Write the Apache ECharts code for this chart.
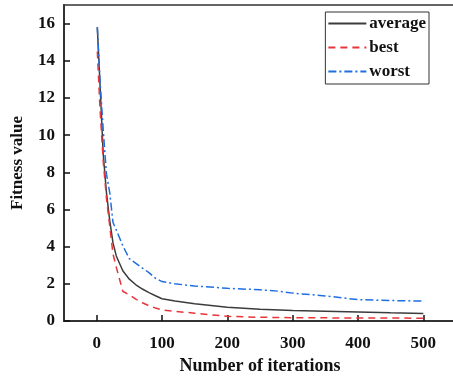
<!DOCTYPE html>
<html><head><meta charset="utf-8">
<script src="https://cdn.jsdelivr.net/npm/echarts@6/dist/echarts.min.js"></script>
<style>html,body{margin:0;padding:0;background:#fff}#c{width:453px;height:378px}</style>
</head><body><div id="c"></div>
<script>
const iterations = [1, 5, 10, 15, 20, 25, 30, 40, 50, 60, 70, 80, 90, 100, 120, 150, 200, 250, 280, 300, 350, 400, 450, 500];
const averageVals = [15.8, 12.8, 9.0, 6.9, 5.4, 4.2, 3.5, 2.7, 2.25, 1.95, 1.72, 1.53, 1.36, 1.2, 1.07, 0.93, 0.74, 0.63, 0.59, 0.56, 0.52, 0.48, 0.44, 0.41];
const bestVals = [14.5, 11.5, 8.6, 6.6, 5.1, 3.6, 2.9, 1.6, 1.4, 1.18, 0.98, 0.82, 0.7, 0.6, 0.52, 0.42, 0.25, 0.2, 0.19, 0.18, 0.17, 0.16, 0.16, 0.15];
const worstVals = [15.8, 13.0, 10.3, 7.9, 6.9, 5.3, 4.9, 4.05, 3.35, 3.1, 2.85, 2.6, 2.3, 2.12, 2.0, 1.88, 1.76, 1.68, 1.6, 1.5, 1.35, 1.15, 1.1, 1.07];
const xTicks = [0, 100, 200, 300, 400, 500];
const yTicks = [0, 2, 4, 6, 8, 10, 12, 14, 16];
const seriesNames = ['average', 'best', 'worst'];

const pairs = vals => iterations.map((x, i) => [x, vals[i]]);
const font = 'Liberation Serif, Times New Roman, serif';
const chart = echarts.init(document.getElementById('c'), null, {renderer: 'canvas'});
chart.setOption({
  animation: false,
  grid: {left: 64, right: -3, top: 5, bottom: 57, outerBoundsMode: 'none', containLabel: false,
         show: true, borderColor: '#333', borderWidth: 1.5},
  legend: {
    orient: 'vertical', right: 24, top: 12,
    itemWidth: 38, itemHeight: 12, itemGap: 7,
    padding: [3, 3, 4, 2],
    borderColor: '#333', borderWidth: 1,
    itemStyle: {opacity: 0},
    textStyle: {fontFamily: font, fontWeight: 'bold', fontSize: 17, color: '#111', padding: [0, 0, 0, -2]},
    data: seriesNames
  },
  xAxis: {
    type: 'value', min: -50, max: 550,
    name: 'Number of iterations', nameLocation: 'middle', nameGap: 36,
    nameTextStyle: {fontFamily: font, fontWeight: 'bold', fontSize: 18, color: '#111'},
    axisLine: {onZero: false, lineStyle: {color: '#333', width: 2}},
    axisTick: {inside: true, length: 6, customValues: xTicks, lineStyle: {color: '#111', width: 1.5}},
    axisLabel: {customValues: xTicks, margin: 14, fontFamily: font, fontWeight: 'bold', fontSize: 17, color: '#111'},
    splitLine: {show: false}
  },
  yAxis: {
    type: 'value', min: 0, max: 17,
    name: 'Fitness value', nameLocation: 'middle', nameGap: 38,
    nameTextStyle: {fontFamily: font, fontWeight: 'bold', fontSize: 17, color: '#111'},
    axisLine: {show: true, onZero: false, lineStyle: {color: '#333', width: 2}},
    axisTick: {show: true, inside: true, length: 6, customValues: yTicks, lineStyle: {color: '#111', width: 1.5}},
    axisLabel: {customValues: yTicks, margin: 9, fontFamily: font, fontWeight: 'bold', fontSize: 17, color: '#111'},
    splitLine: {show: false}
  },
  series: [
    {name: 'average', type: 'line', symbol: 'none', data: pairs(averageVals),
     lineStyle: {color: '#3c3c3c', width: 1.5}, itemStyle: {color: '#3c3c3c'}},
    {name: 'best', type: 'line', symbol: 'none', data: pairs(bestVals),
     lineStyle: {color: '#e8353b', width: 1.5, type: [7, 5]}, itemStyle: {color: '#e8353b'}},
    {name: 'worst', type: 'line', symbol: 'none', data: pairs(worstVals),
     lineStyle: {color: '#1f6fe0', width: 1.5, type: [8, 3, 2, 3]}, itemStyle: {color: '#1f6fe0'}}
  ]
});
</script></body></html>
